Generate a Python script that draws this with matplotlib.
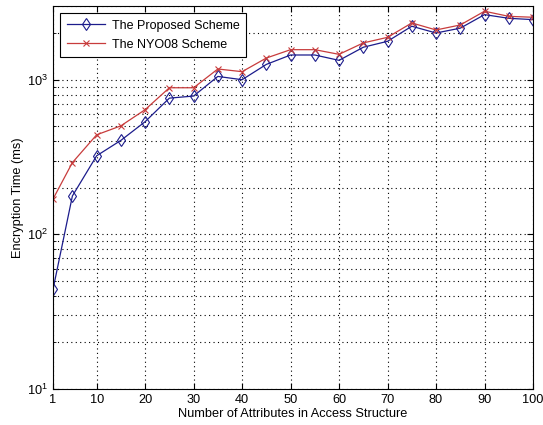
import matplotlib
matplotlib.use("Agg")
import matplotlib.pyplot as plt
from matplotlib.ticker import LogLocator, NullFormatter, FixedLocator

plt.rcParams['font.family'] = ['Liberation Sans', 'DejaVu Sans']

attributes = [1, 5, 10, 15, 20, 25, 30, 35, 40, 45, 50, 55, 60, 65, 70, 75, 80, 85, 90, 95, 100]
proposed = [44, 177, 322, 405, 535, 760, 784, 1050, 1000, 1256, 1445, 1445, 1334, 1622, 1772,
            2218, 2005, 2155, 2636, 2496, 2447]
nyo08 = [169, 291, 440, 503, 640, 887, 887, 1173, 1127, 1381, 1564, 1564, 1459, 1730, 1880,
         2329, 2098, 2260, 2773, 2570, 2535]
xticks = [1, 10, 20, 30, 40, 50, 60, 70, 80, 90, 100]

fig = plt.figure(figsize=(5.43, 4.25), dpi=100)
ax = fig.add_axes([0.0976, 0.085, 0.884, 0.901])

ax.plot(attributes, proposed, color='#1c1c8c', lw=0.9, marker='d', ms=6.5,
        mfc='none', mec='#1c1c8c', mew=0.8, label='The Proposed Scheme')
ax.plot(attributes, nyo08, color='#c83c3c', lw=0.9, marker='x', ms=4,
        mec='#c83c3c', mew=0.8, label='The NYO08 Scheme')

ax.set_yscale('log')
ax.set_xlim(1, 100)
ax.set_ylim(10, 3000)
ax.xaxis.set_major_locator(FixedLocator(xticks))
ax.set_xticklabels([str(t) for t in xticks])
ax.yaxis.set_major_locator(LogLocator(base=10, numticks=10))
ax.yaxis.set_minor_locator(LogLocator(base=10, subs=range(2, 10), numticks=20))
ax.yaxis.set_minor_formatter(NullFormatter())

dots = (0, (1, 3))
ax.grid(True, which='major', linestyle=dots, color='black', lw=0.8)
ax.grid(True, which='minor', axis='y', linestyle=dots, color='black', lw=0.8)

ax.tick_params(which='both', direction='in', top=True, right=True, labelsize=9.2)
ax.tick_params(which='major', length=4)
ax.tick_params(which='minor', length=2)
for s in ax.spines.values():
    s.set_linewidth(0.8)

ax.set_xlabel('Number of Attributes in Access Structure', fontsize=9.2, labelpad=1.5)
ax.set_ylabel('Encryption Time (ms)', fontsize=9.2, labelpad=2)

leg = ax.legend(loc='upper left', fontsize=9, frameon=True, fancybox=False,
                edgecolor='black', borderaxespad=0.6, handlelength=3.1,
                handletextpad=0.5, labelspacing=0.55, borderpad=0.5, framealpha=1)
leg.get_frame().set_linewidth(0.8)

fig.savefig('out.png', dpi=100, facecolor='white')
